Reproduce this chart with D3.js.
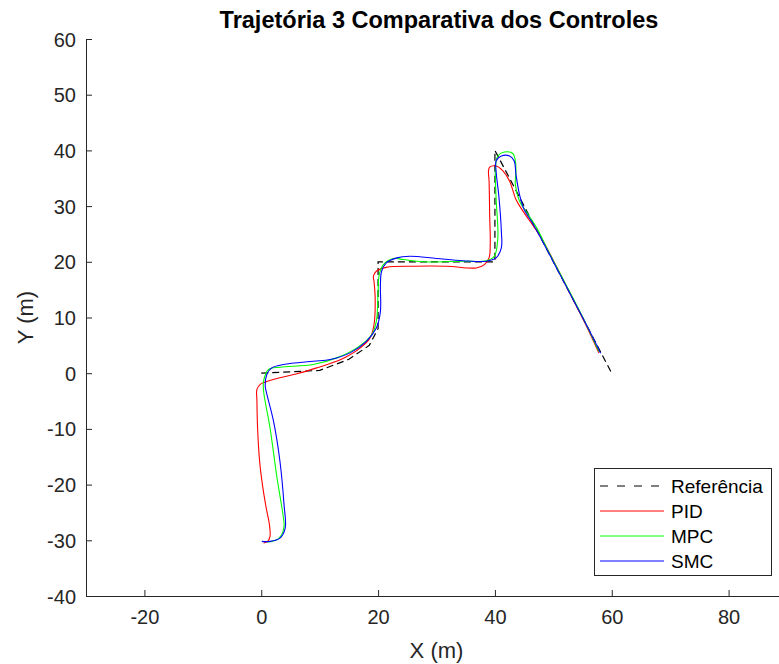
<!DOCTYPE html>
<html><head><meta charset="utf-8">
<script src="https://cdn.jsdelivr.net/npm/d3@7"></script>
<style>body{margin:0;background:#fff}svg{display:block}text{font-family:"Liberation Sans",Arial,sans-serif}</style>
</head><body><svg id="c" width="779" height="664"></svg>
<script>
const title = "Trajetória 3 Comparativa dos Controles";
const xLabel = "X (m)", yLabel = "Y (m)";
const xTicks = [-20, 0, 20, 40, 60, 80];
const yTicks = [-40, -30, -20, -10, 0, 10, 20, 30, 40, 50, 60];
const seriesNames = ["Referência", "PID", "MPC", "SMC"];
const seriesColors = ["#000000", "#ff0000", "#00ff00", "#0000ff"];

const reference = [[0,0],[10,0.5],[15,2.5],[18.5,5],[20,8],[20,20],[40,20],[40,40],[60,0]];
const pid = [[0.4,-30.5],[1.1,-30.2],[1.5,-29.3],[1.4,-27.2],[0.85,-24.2],[0.28,-20.6],[-0.28,-15.8],[-0.63,-9.8],[-0.74,-5.0],[-0.74,-2.9],[-0.17,-2.0],[0.68,-1.6],[2.7,-0.96],[6.1,-0.1],[9.5,0.96],[12.9,2.15],[14.5,2.9],[16.9,4.5],[18.6,6.3],[19.3,8.7],[19.5,13.5],[19.3,16.5],[19.2,17.4],[19.7,18.3],[21.4,19.0],[26.0,19.2],[31.7,19.2],[36.8,18.9],[38.2,19.5],[39.0,20.7],[39.2,23.1],[39.1,28.5],[39.0,34.5],[38.9,36.3],[39.1,37.0],[40.2,37.2],[41.3,36.4],[42.5,34.5],[43.6,31.2],[44.8,29.1],[46.6,26.4],[48.0,24.2],[50.6,19.0],[53.2,13.6],[55.6,8.6],[57.8,3.6]];
const mpc = [[1.0,-30.3],[2.5,-30.0],[3.5,-29.0],[3.9,-27.5],[3.8,-26.0],[2.7,-18.8],[1.5,-9.8],[0.4,-3.2],[0.4,-1.4],[1.25,0.66],[3.2,1.08],[8.9,1.56],[12.9,2.75],[16.3,4.5],[18.9,6.9],[19.7,9.3],[20.0,14.7],[20.2,17.7],[20.9,19.5],[22.6,20.6],[24.3,20.4],[27.7,20.0],[34.5,20.1],[38.5,20.2],[39.9,21.0],[40.5,24.3],[40.2,31.5],[40.1,36.9],[40.5,39.0],[41.6,39.7],[43.1,39.4],[43.5,38.1],[43.6,36.3],[43.5,33.9],[44.2,30.9],[45.6,28.6],[47.2,26.0],[49.0,22.2],[51.2,17.8],[53.6,13.0],[55.8,8.4],[57.8,3.9]];
const smc = [[0.1,-30.2],[1.5,-30.2],[3.2,-29.6],[4.1,-27.8],[3.9,-23.6],[3.2,-15.8],[2.1,-8.6],[0.97,-3.8],[0.68,-2.3],[0.97,-0.2],[1.8,0.96],[3.8,1.56],[8.9,2.15],[11.8,2.45],[15.2,3.65],[18.0,5.7],[19.7,8.1],[20.4,11.1],[20.4,15.9],[20.6,18.3],[21.4,19.8],[23.2,20.7],[25.4,21.0],[30.0,20.6],[34.5,20.2],[38.5,20.1],[40.2,20.7],[41.1,22.5],[41.1,25.5],[40.7,31.5],[40.2,36.3],[40.2,38.1],[41.1,39.0],[42.5,39.0],[43.3,38.1],[43.6,35.7],[44.2,32.1],[45.0,29.4],[46.4,27.0],[48.6,22.8],[51.0,18.0],[53.5,13.0],[55.9,8.2],[58.1,3.6]];

const svg = d3.select("#c");
const x = d3.scaleLinear().domain([-30, 90]).range([86, 787]);
const y = d3.scaleLinear().domain([-40, 60]).range([596, 39]);
const axisColor = "#262626";
const fmt = d => String(d);

// axes
const gx = svg.append("g").attr("transform", `translate(0,${y(-40)})`)
  .call(d3.axisBottom(x).tickValues(xTicks).tickSize(-6).tickPadding(14).tickFormat(fmt));
const gy = svg.append("g").attr("transform", `translate(${x(-30)},0)`)
  .call(d3.axisLeft(y).tickValues(yTicks).tickSize(-6).tickPadding(10).tickFormat(fmt));
[gx, gy].forEach(g => {
  g.select(".domain").attr("stroke", axisColor).attr("stroke-width", 1);
  g.selectAll(".tick line").attr("stroke", axisColor);
  g.selectAll(".tick text").attr("fill", axisColor).style("font-size", "20px").style("font-family", '"Liberation Sans",Arial,sans-serif');
});
gx.select(".domain").attr("d", `M${x(-30)},0.5H${x(90)}`);
gy.select(".domain").attr("d", `M0.5,${y(-40)}V${y(60)}`);
gy.selectAll(".tick text").attr("dy", "0.35em");

// lines
const line = d3.line().x(d => x(d[0])).y(d => y(d[1])).curve(d3.curveCatmullRom.alpha(0.5));
const lineLin = d3.line().x(d => x(d[0])).y(d => y(d[1]));
const plot = svg.append("g");
plot.append("path").attr("d", lineLin(reference)).attr("fill", "none")
  .attr("stroke", seriesColors[0]).attr("stroke-width", 1.2).attr("stroke-dasharray", "7,4");
[pid, mpc, smc].forEach((s, i) => {
  plot.append("path").attr("d", line(s)).attr("fill", "none")
    .attr("stroke", seriesColors[i + 1]).attr("stroke-width", 1.1);
});

// title & labels
svg.append("text").attr("x", 439).attr("y", 28).attr("text-anchor", "middle")
  .style("font-size", "23.5px").style("font-weight", "bold").attr("fill", "#000").text(title);
svg.append("text").attr("x", (x(-30) + x(90)) / 2).attr("y", 658).attr("text-anchor", "middle")
  .style("font-size", "22px").attr("fill", axisColor).text(xLabel);
svg.append("text").attr("transform", `translate(33,${(y(-40) + y(60)) / 2}) rotate(-90)`)
  .attr("text-anchor", "middle").style("font-size", "22px").attr("fill", axisColor).text(yLabel);

// legend
const lg = svg.append("g");
lg.append("rect").attr("x", 594.5).attr("y", 468.5).attr("width", 177).attr("height", 107)
  .attr("fill", "#fff").attr("stroke", axisColor).attr("stroke-width", 1);
const rowY = [486, 511, 536, 561];
seriesNames.forEach((n, i) => {
  lg.append("line").attr("x1", 600).attr("x2", 664).attr("y1", rowY[i]).attr("y2", rowY[i])
    .attr("stroke", seriesColors[i]).attr("stroke-width", 1)
    .attr("stroke-dasharray", i === 0 ? "8,9" : null);
  lg.append("text").attr("x", 671).attr("y", rowY[i]).attr("dy", "0.35em")
    .style("font-size", "19px").attr("fill", "#000").text(n);
});
</script></body></html>
